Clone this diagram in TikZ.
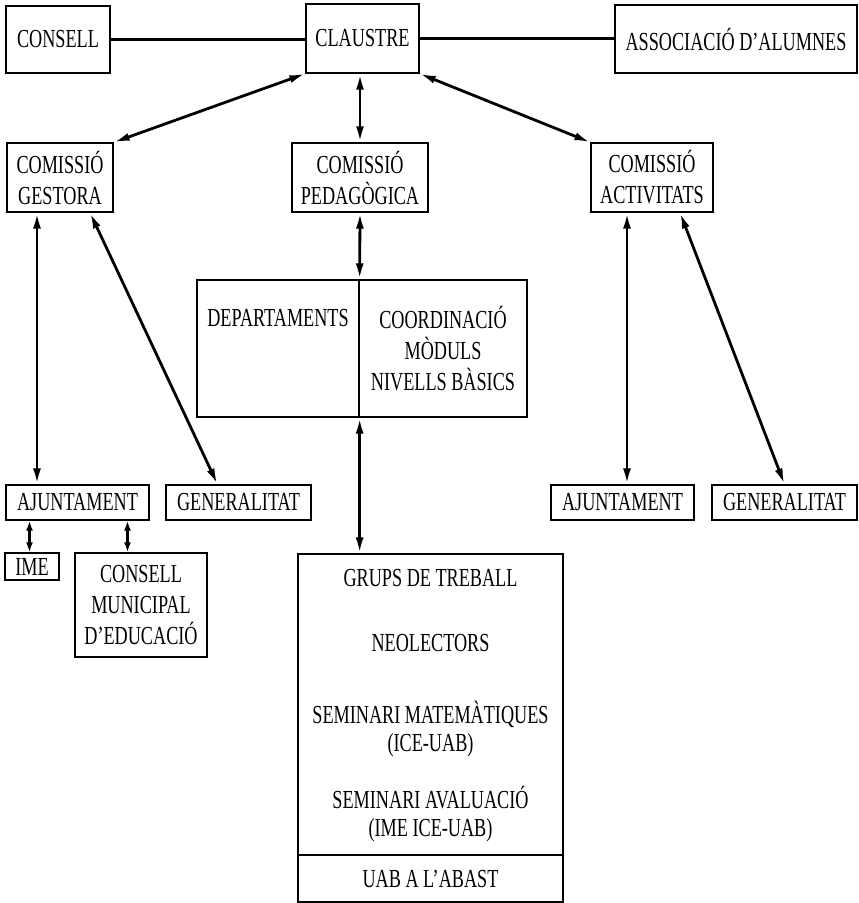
\documentclass[tikz,border=0pt]{standalone}
\usepackage{fontspec}
\setmainfont{Liberation Serif}
\newfontfamily\orgfont[FakeStretch=0.7]{Liberation Serif}
\usetikzlibrary{arrows.meta}
\tikzset{
  orgbox/.style={draw=black, line width=1.3pt, inner sep=2pt, align=center, font=\orgfont\fontsize{26}{31}\selectfont},
  txt/.style={inner sep=0pt, align=center, font=\orgfont\fontsize{26}{28}\selectfont},
  link/.style={line width=2.4pt},
  twoway/.style={line width=2.8pt, {Latex[length=16pt,width=8pt]}-{Latex[length=16pt,width=8pt]}},
  shortway/.style={line width=2.6pt, {Latex[length=10pt,width=7pt]}-{Latex[length=10pt,width=7pt]}}
}
\begin{document}
\begin{tikzpicture}[x=1pt,y=-1pt]
\useasboundingbox (0,0) rectangle (859,903);
% top row
\node [orgbox, minimum width=104pt, minimum height=67pt] (consell) at (58,39.5) {CONSELL};
\node [orgbox, minimum width=113pt, minimum height=69pt] (claustre) at (362.5,38.5) {CLAUSTRE};
\node [orgbox, minimum width=242pt, minimum height=68pt] (assoc) at (736,39) {ASSOCIACIÓ D’ALUMNES};
% comissions
\node [orgbox, minimum width=106pt, minimum height=69pt] (gest) at (60,177.5) {COMISSIÓ\\GESTORA};
\node [orgbox, minimum width=136pt, minimum height=69pt] (ped) at (360,177.5) {COMISSIÓ\\PEDAGÒGICA};
\node [orgbox, minimum width=122pt, minimum height=69pt] (act) at (652,177.5) {COMISSIÓ\\ACTIVITATS};
% departaments
\node [orgbox, minimum width=162pt, minimum height=137pt] (dep) at (278,348.5) {};
\node [txt] (deptxt) at (278,318) {DEPARTAMENTS};
\node [orgbox, minimum width=168pt, minimum height=137pt] (coord) at (443,348.5) {COORDINACIÓ\\MÒDULS\\NIVELLS BÀSICS};
% ajuntaments i generalitat
\node [orgbox, minimum width=143pt, minimum height=35pt] (aj1) at (77.5,502.5) {AJUNTAMENT};
\node [orgbox, minimum width=145pt, minimum height=35pt] (gen1) at (238.5,502.5) {GENERALITAT};
\node [orgbox, minimum width=143pt, minimum height=35pt] (aj2) at (622.5,502.5) {AJUNTAMENT};
\node [orgbox, minimum width=145pt, minimum height=35pt] (gen2) at (784.5,502.5) {GENERALITAT};
\node [orgbox, minimum width=54pt, minimum height=27pt] (ime) at (32,566.5) {IME};
\node [orgbox, minimum width=132pt, minimum height=104pt] (cmun) at (141,605) {CONSELL\\MUNICIPAL\\D’EDUCACIÓ};
% grups
\node [orgbox, minimum width=265pt, minimum height=301pt] (grups) at (430.5,704.5) {};
\node [txt] (grupstxt) at (430.5,578) {GRUPS DE TREBALL};
\node [txt] (neo) at (430.5,643) {NEOLECTORS};
\node [txt] (semmat) at (430.5,729) {SEMINARI MATEMÀTIQUES\\(ICE-UAB)};
\node [txt] (semaval) at (430.5,814) {SEMINARI AVALUACIÓ\\(IME ICE-UAB)};
\node [orgbox, minimum width=265pt, minimum height=47pt] (uab) at (430.5,878.5) {UAB A L’ABAST};
% connexions
\draw [link] (consell.east) -- (consell.east -| claustre.west);
\draw [link] (claustre.east) -- (claustre.east -| assoc.west);
\draw [twoway] (claustre.south west) -- (gest.north east);
\draw [twoway] (claustre.south -| ped.north) -- (ped.north);
\draw [twoway] (claustre.south east) -- (act.north west);
\draw [twoway] (ped.south) -- (dep.north east);
\draw [twoway] (dep.south east) -- (dep.south east |- grups.north);
\draw [twoway] ([xshift=-23pt]gest.south) -- ([xshift=-23pt]gest.south |- aj1.north);
\draw [twoway] ([xshift=30pt]gest.south) -- ([xshift=-21pt]gen1.north);
\draw [twoway] ([xshift=-25pt]act.south) -- ([xshift=-25pt]act.south |- aj2.north);
\draw [twoway] ([xshift=28pt]act.south) -- (gen2.north);
\draw [shortway] ([xshift=-48pt]aj1.south) -- ([xshift=-48pt]aj1.south |- ime.north);
\draw [shortway] ([xshift=50pt]aj1.south) -- ([xshift=50pt]aj1.south |- cmun.north);
\end{tikzpicture}
\end{document}
